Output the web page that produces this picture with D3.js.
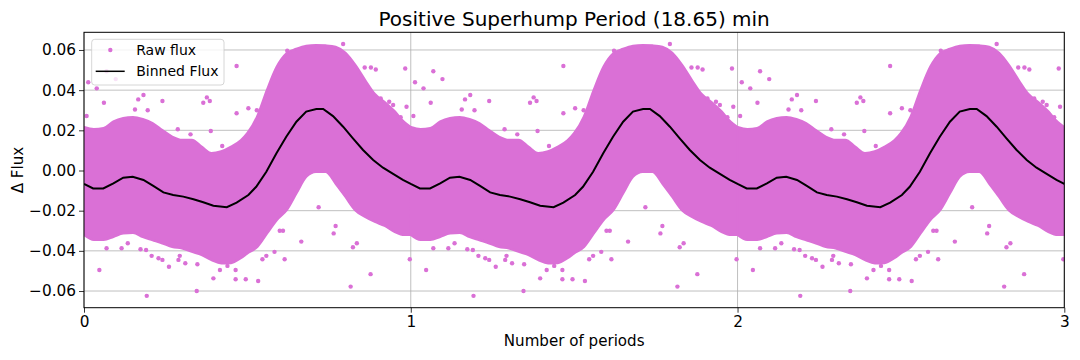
<!DOCTYPE html>
<html>
<head>
<meta charset="utf-8">
<script src="https://cdn.jsdelivr.net/npm/d3@7"></script>
<style>
  body { margin: 0; background: #fff; }
  text { font-family: "DejaVu Sans", sans-serif; }
</style>
</head>
<body>
<script>
// One period of the phase-folded light curve, repeated three times on the plot.

// Binned flux (phase, flux)
const binPhase = [0.000, 0.028, 0.059, 0.090, 0.120, 0.149, 0.182, 0.212, 0.243, 0.273, 0.304, 0.335,
    0.365, 0.396, 0.437, 0.467, 0.503, 0.527, 0.558, 0.589, 0.619, 0.650, 0.680, 0.711, 0.732,
    0.762, 0.793, 0.823, 0.854, 0.885, 0.915, 0.946, 0.976, 1.000];
const binFlux = [-0.0067, -0.0089, -0.0089, -0.0064, -0.0036, -0.0031, -0.0047, -0.0077, -0.0109, -0.0122,
    -0.0130, -0.0143, -0.0158, -0.0175, -0.0183, -0.0160, -0.0122, -0.0081, -0.0006, 0.0086, 0.0168,
    0.0243, 0.0293, 0.0306, 0.0306, 0.0271, 0.0218, 0.0160, 0.0102, 0.0052, 0.0014, -0.0017, -0.0047, -0.0067];

// Dense raw-flux cloud: upper and lower edges
const bandPhase = [0.00, 0.03, 0.06, 0.09, 0.12, 0.15, 0.18, 0.21, 0.24, 0.27, 0.30, 0.33, 0.36, 0.39,
    0.42, 0.45, 0.48, 0.50, 0.53, 0.56, 0.59, 0.62, 0.65, 0.68, 0.71, 0.74, 0.77, 0.80, 0.83, 0.86,
    0.89, 0.92, 0.95, 0.98, 1.00];
const bandUpper = [0.0215, 0.0205, 0.0210, 0.0243, 0.0260, 0.0265, 0.0255, 0.0235, 0.0200, 0.0168, 0.0152,
    0.0152, 0.0118, 0.0086, 0.0095, 0.0118, 0.0150, 0.0185, 0.0268, 0.0400, 0.0516, 0.0583, 0.0605,
    0.0620, 0.0624, 0.0622, 0.0615, 0.0585, 0.0525, 0.0450, 0.0380, 0.0340, 0.0295, 0.0240, 0.0215];
const bandLower = [-0.0320, -0.0345, -0.0345, -0.0330, -0.0313, -0.0310, -0.0330, -0.0346, -0.0362, -0.0380,
    -0.0387, -0.0404, -0.0420, -0.0445, -0.0462, -0.0460, -0.0435, -0.0412, -0.0380, -0.0313, -0.0246,
    -0.0197, -0.0113, -0.0031, -0.0006, -0.0006, -0.0064, -0.0130, -0.0197, -0.0230, -0.0255, -0.0275,
    -0.0304, -0.0320, -0.0320];

// Scattered raw-flux points outside the dense cloud
const outPhase = [0.008, 0.013, 0.039, 0.061, 0.069, 0.097, 0.156, 0.166, 0.182, 0.195, 0.240, 0.287,
    0.326, 0.365, 0.376, 0.385, 0.388, 0.423, 0.467, 0.467, 0.503, 0.529, 0.622, 0.793, 0.859, 0.878,
    0.893, 0.908, 0.934, 0.946, 0.969, 0.983, 0.987,
    0.047, 0.069, 0.115, 0.134, 0.173, 0.190, 0.192, 0.207, 0.228, 0.240, 0.260, 0.289, 0.293, 0.310,
    0.345, 0.347, 0.396, 0.416, 0.439, 0.464, 0.464, 0.495, 0.533, 0.546, 0.558, 0.583, 0.599, 0.609,
    0.614, 0.665, 0.718, 0.764, 0.770, 0.816, 0.823, 0.835, 0.877, 0.997];
const outFlux = [0.0271, 0.0439, 0.0409, 0.0337, 0.0494, 0.0455, 0.0304, 0.0354, 0.0376, 0.0300, 0.0346, 0.0205,
    0.0180, 0.0337, 0.0364, 0.0346, 0.0197, 0.0122, 0.0520, 0.0285, 0.0310, 0.0300, 0.0596, 0.0630, 0.0513,
    0.0513, 0.0503, 0.0359, 0.0342, 0.0326, 0.0265, 0.0508, 0.0317,
    -0.0495, -0.0387, -0.0387, -0.0362, -0.0392, -0.0396, -0.0624, -0.0425, -0.0437, -0.0445, -0.0479,
    -0.0445, -0.0425, -0.0462, -0.0600, -0.0467, -0.0537, -0.0495, -0.0475, -0.0541, -0.0495, -0.0541,
    -0.0550, -0.0442, -0.0425, -0.0405, -0.0300, -0.0300, -0.0442, -0.0354, -0.0183, -0.0313, -0.0276,
    -0.0578, -0.0382, -0.0362, -0.0516, -0.0442];

const periods = [0, 1, 2];
const xTicks = [0, 1, 2, 3];
const yTicks = [-0.06, -0.04, -0.02, 0.00, 0.02, 0.04, 0.06];

const width = 1080;
const height = 360;
const margin = {top: 32.3, right: 15.7, bottom: 52.3, left: 84};
const rawColor = '#da70d6';

const svg = d3.select('body').append('svg')
    .attr('width', width)
    .attr('height', height);

const x = d3.scaleLinear()
    .domain([0, 3])
    .range([margin.left, width - margin.right]);

const y = d3.scaleLinear()
    .domain([-0.0683, 0.0688])
    .range([height - margin.bottom, margin.top]);

svg.append('clipPath').attr('id', 'plot-clip')
    .append('rect')
    .attr('x', margin.left).attr('y', margin.top)
    .attr('width', x(3) - x(0)).attr('height', y(-0.0683) - y(0.0688));

// grid (below data)
const grid = svg.append('g').attr('stroke', '#b0b0b0').attr('stroke-width', 0.8);
grid.selectAll('.gy').data(yTicks).join('line')
    .attr('x1', x(0)).attr('x2', x(3))
    .attr('y1', d => y(d)).attr('y2', d => y(d));
grid.selectAll('.gx').data(xTicks).join('line')
    .attr('x1', d => x(d)).attr('x2', d => x(d))
    .attr('y1', y(-0.0683)).attr('y2', y(0.0688));

const plot = svg.append('g').attr('clip-path', 'url(#plot-clip)');

// raw flux cloud
const band = d3.area()
    .x(d => x(d.p))
    .y0(d => y(d.lo))
    .y1(d => y(d.hi))
    .curve(d3.curveMonotoneX);

periods.forEach(k => {
    const rows = bandPhase.map((p, i) => ({p: k + p, hi: bandUpper[i], lo: bandLower[i]}));
    plot.append('path')
        .datum(rows)
        .attr('d', band)
        .attr('fill', rawColor)
        .attr('stroke', rawColor)
        .attr('stroke-width', 2.5)
        .attr('stroke-linejoin', 'round');
});

const outliers = periods.flatMap(k => outPhase.map((p, i) => ({p: k + p, f: outFlux[i]})));
plot.selectAll('circle.raw')
    .data(outliers)
    .join('circle')
    .attr('class', 'raw')
    .attr('cx', d => x(d.p))
    .attr('cy', d => y(d.f))
    .attr('r', 2.2)
    .attr('fill', rawColor);

// binned flux
const binned = periods.flatMap(k => binPhase.map((p, i) => ({p: k + p, f: binFlux[i]})));
const line = d3.line().x(d => x(d.p)).y(d => y(d.f));
plot.append('path')
    .datum(binned)
    .attr('d', line)
    .attr('fill', 'none')
    .attr('stroke', '#000')
    .attr('stroke-width', 2);

// axes
const xAxis = svg.append('g')
    .attr('transform', `translate(0,${height - margin.bottom})`)
    .call(d3.axisBottom(x).tickValues(xTicks).tickFormat(d3.format('d')).tickSize(5).tickPadding(3));
const yAxis = svg.append('g')
    .attr('transform', `translate(${margin.left},0)`)
    .call(d3.axisLeft(y).tickValues(yTicks).tickFormat(d3.format('.2f')).tickSize(5).tickPadding(3));
[xAxis, yAxis].forEach(a => {
    a.select('.domain').remove();
    a.selectAll('line').attr('stroke', '#000').attr('stroke-width', 0.8);
    a.selectAll('text').attr('fill', '#000').style('font-size', '15.3px');
});

// frame
svg.append('rect')
    .attr('x', x(0)).attr('y', y(0.0688))
    .attr('width', x(3) - x(0)).attr('height', y(-0.0683) - y(0.0688))
    .attr('fill', 'none').attr('stroke', '#000').attr('stroke-width', 1);

// labels
svg.append('text')
    .attr('x', (x(0) + x(3)) / 2).attr('y', 26)
    .attr('text-anchor', 'middle')
    .style('font-size', '20px')
    .text('Positive Superhump Period (18.65) min');

svg.append('text')
    .attr('x', (x(0) + x(3)) / 2).attr('y', 346)
    .attr('text-anchor', 'middle')
    .style('font-size', '15.1px')
    .text('Number of periods');

svg.append('text')
    .attr('transform', `translate(23,${(y(0.0688) + y(-0.0683)) / 2}) rotate(-90)`)
    .attr('text-anchor', 'middle')
    .style('font-size', '15.1px')
    .text('Δ Flux');

// legend
const legend = svg.append('g').attr('transform', 'translate(91.7,39.3)');
legend.append('rect')
    .attr('width', 132.3).attr('height', 45.7)
    .attr('rx', 3)
    .attr('fill', '#fff').attr('fill-opacity', 0.8)
    .attr('stroke', '#cccccc').attr('stroke-width', 0.8);
legend.append('circle')
    .attr('cx', 18.6).attr('cy', 10.7).attr('r', 2.2)
    .attr('fill', rawColor);
legend.append('line')
    .attr('x1', 4).attr('x2', 33).attr('y1', 32).attr('y2', 32)
    .attr('stroke', '#000').attr('stroke-width', 1.5);
legend.append('text').attr('x', 44.5).attr('y', 15.7).style('font-size', '14px').text('Raw flux');
legend.append('text').attr('x', 44.5).attr('y', 37).style('font-size', '14px').text('Binned Flux');
</script>
</body>
</html>
